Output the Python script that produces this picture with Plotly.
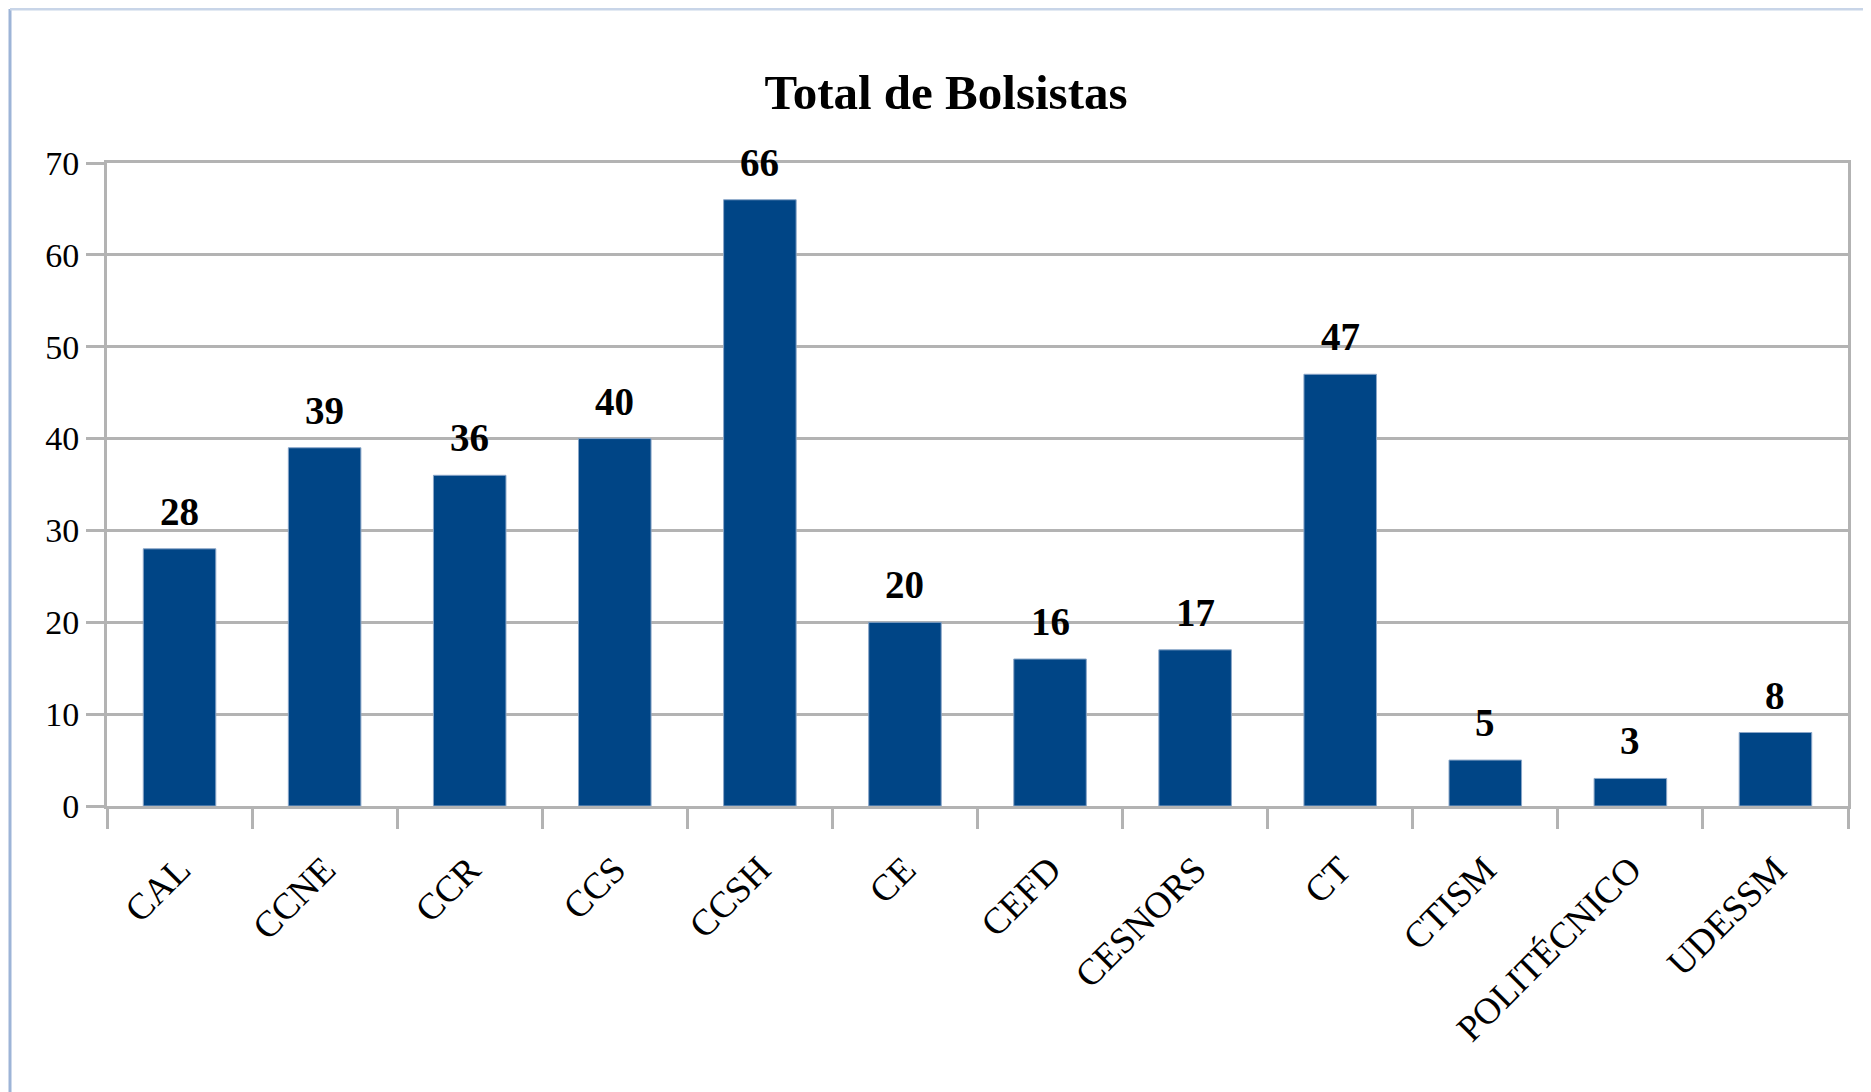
import plotly.graph_objects as go

categories = ["CAL", "CCNE", "CCR", "CCS", "CCSH", "CE", "CEFD", "CESNORS",
              "CT", "CTISM", "POLITÉCNICO", "UDESSM"]
values = [28, 39, 36, 40, 66, 20, 16, 17, 47, 5, 3, 8]
y_ticks = [0, 10, 20, 30, 40, 50, 60, 70]

W, H = 1871, 1092
OFF = 8  # page body offset
L, T = 107 - OFF, 163 - OFF
pw, ph = 1741, 643
R = W - L - pw
B = H - T - ph

def px_x(px):
    return (px - OFF - L) / pw

def px_y(py):
    return (T + ph - (py - OFF)) / ph

GRAY = "#b3b3b3"
SERIF = "Liberation Serif"

fig = go.Figure()
fig.add_trace(go.Bar(
    x=categories, y=values,
    marker=dict(color="#004586", line=dict(color="#8aa6c8", width=1)),
    hoverinfo="x+y",
))

for c, v in zip(categories, values):
    fig.add_annotation(x=c, y=v, text=f"<b>{v}</b>", showarrow=False,
                       yanchor="bottom", yshift=14,
                       font=dict(family=SERIF, size=39, color="black"))

fig.update_layout(
    width=W, height=H,
    margin=dict(l=L, r=R, t=T, b=B),
    paper_bgcolor="white", plot_bgcolor="white",
    bargap=0.5,
    showlegend=False,
    title=dict(text="<b>Total de Bolsistas</b>", x=(946 - OFF) / W, xanchor="center",
               xref="container", yref="container",
               y=(H - (92 - OFF)) / H, yanchor="middle",
               font=dict(family=SERIF, size=49, color="black")),
    shapes=[
        dict(type="line", xref="paper", yref="paper",
             x0=px_x(10), x1=px_x(10), y0=px_y(9), y1=px_y(H + 20),
             line=dict(color="#9db4d7", width=3)),
        dict(type="line", xref="paper", yref="paper",
             x0=px_x(10), x1=px_x(W + 20), y0=px_y(9), y1=px_y(9),
             line=dict(color="#c8d5e8", width=3)),
    ],
)

fig.update_xaxes(
    type="category", tickson="boundaries",
    showline=True, linecolor=GRAY, linewidth=3, mirror=True,
    ticks="outside", ticklen=20, tickwidth=3, tickcolor=GRAY,
    tickangle=-45, showgrid=False, ticklabelstandoff=24,
    tickfont=dict(family=SERIF, size=37, color="black"),
)
fig.update_yaxes(
    range=[0, 70], tickvals=y_ticks,
    showline=True, linecolor=GRAY, linewidth=3, mirror=True,
    ticks="outside", ticklen=18, tickwidth=3, tickcolor=GRAY,
    showgrid=True, gridcolor=GRAY, gridwidth=3, zeroline=False,
    tickfont=dict(family=SERIF, size=34, color="black"),
)

fig.write_html("out.html")
